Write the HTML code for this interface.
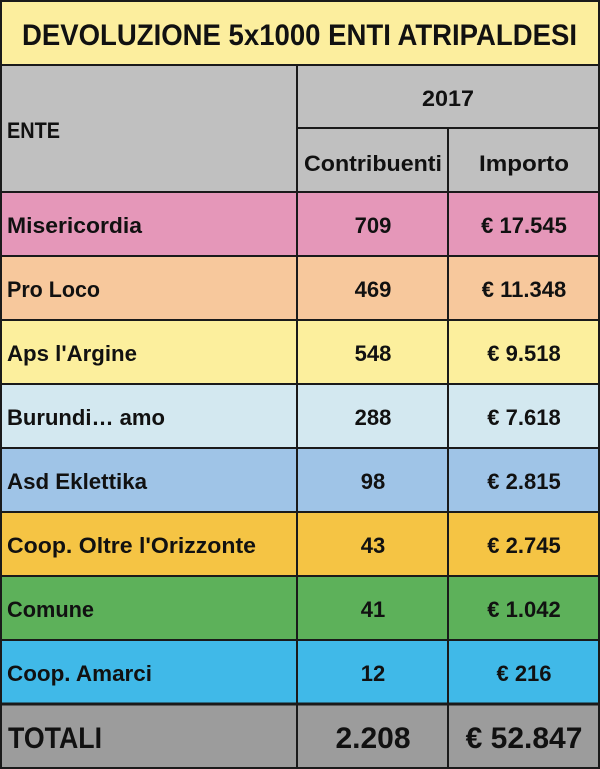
<!DOCTYPE html>
<html><head><meta charset="utf-8"><style>
html,body{margin:0;padding:0;background:#fff;}
svg{display:block;}
text{font-family:"Liberation Sans",Arial,sans-serif;font-weight:bold;fill:#111;}
</style></head><body>
<svg width="600" height="769" viewBox="0 0 600 769" xmlns="http://www.w3.org/2000/svg">
<rect x="0" y="0" width="600" height="65" fill="#fcee9e"/>
<rect x="0" y="65" width="600" height="127" fill="#c0c0c0"/>
<rect x="0" y="192" width="600" height="64" fill="#e597b9"/>
<rect x="0" y="256" width="600" height="64" fill="#f7c89c"/>
<rect x="0" y="320" width="600" height="64" fill="#fcef9d"/>
<rect x="0" y="384" width="600" height="64" fill="#d3e8f0"/>
<rect x="0" y="448" width="600" height="64" fill="#9fc4e7"/>
<rect x="0" y="512" width="600" height="64" fill="#f5c444"/>
<rect x="0" y="576" width="600" height="64" fill="#5db15a"/>
<rect x="0" y="640" width="600" height="64" fill="#40b9e8"/>
<rect x="0" y="704" width="600" height="65" fill="#9c9c9c"/>
<g stroke="#1a1a1a" stroke-width="2">
<line x1="0" y1="1" x2="600" y2="1"/>
<line x1="0" y1="65" x2="600" y2="65"/>
<line x1="297" y1="128" x2="600" y2="128"/>
<line x1="0" y1="192" x2="600" y2="192"/>
<line x1="0" y1="256" x2="600" y2="256"/>
<line x1="0" y1="320" x2="600" y2="320"/>
<line x1="0" y1="384" x2="600" y2="384"/>
<line x1="0" y1="448" x2="600" y2="448"/>
<line x1="0" y1="512" x2="600" y2="512"/>
<line x1="0" y1="576" x2="600" y2="576"/>
<line x1="0" y1="640" x2="600" y2="640"/>
<line x1="0" y1="704" x2="600" y2="704" stroke-width="3"/>
<line x1="0" y1="768" x2="600" y2="768"/>
<line x1="1" y1="0" x2="1" y2="769"/>
<line x1="599" y1="0" x2="599" y2="769"/>
<line x1="297" y1="65" x2="297" y2="769"/>
<line x1="448" y1="128" x2="448" y2="769"/>
</g>
<text x="22" y="45" font-size="30" textLength="555" lengthAdjust="spacingAndGlyphs">DEVOLUZIONE 5x1000 ENTI ATRIPALDESI</text>
<text x="7" y="138" font-size="22" textLength="53" lengthAdjust="spacingAndGlyphs">ENTE</text>
<text x="448" y="106" font-size="22" text-anchor="middle" textLength="52" lengthAdjust="spacingAndGlyphs">2017</text>
<text x="304" y="171" font-size="22" textLength="138" lengthAdjust="spacingAndGlyphs">Contribuenti</text>
<text x="479" y="171" font-size="22" textLength="90" lengthAdjust="spacingAndGlyphs">Importo</text>
<g font-size="22">
<text x="7" y="233" textLength="135" lengthAdjust="spacingAndGlyphs">Misericordia</text>
<text x="7" y="297" textLength="93" lengthAdjust="spacingAndGlyphs">Pro Loco</text>
<text x="7" y="361" textLength="130" lengthAdjust="spacingAndGlyphs">Aps l'Argine</text>
<text x="7" y="425" textLength="158" lengthAdjust="spacingAndGlyphs">Burundi… amo</text>
<text x="7" y="489" textLength="140" lengthAdjust="spacingAndGlyphs">Asd Eklettika</text>
<text x="7" y="553" textLength="249" lengthAdjust="spacingAndGlyphs">Coop. Oltre l'Orizzonte</text>
<text x="7" y="617" textLength="87" lengthAdjust="spacingAndGlyphs">Comune</text>
<text x="7" y="681" textLength="145" lengthAdjust="spacingAndGlyphs">Coop. Amarci</text>
</g>
<g font-size="22" text-anchor="middle">
<text x="373" y="233">709</text><text x="524" y="233">€ 17.545</text>
<text x="373" y="297">469</text><text x="524" y="297">€ 11.348</text>
<text x="373" y="361">548</text><text x="524" y="361">€ 9.518</text>
<text x="373" y="425">288</text><text x="524" y="425">€ 7.618</text>
<text x="373" y="489">98</text><text x="524" y="489">€ 2.815</text>
<text x="373" y="553">43</text><text x="524" y="553">€ 2.745</text>
<text x="373" y="617">41</text><text x="524" y="617">€ 1.042</text>
<text x="373" y="681">12</text><text x="524" y="681">€ 216</text>
</g>
<text x="8" y="748" font-size="30" textLength="94" lengthAdjust="spacingAndGlyphs">TOTALI</text>
<text x="373" y="748" font-size="30" text-anchor="middle">2.208</text>
<text x="524" y="748" font-size="30" text-anchor="middle">€ 52.847</text>
</svg>
</body></html>
